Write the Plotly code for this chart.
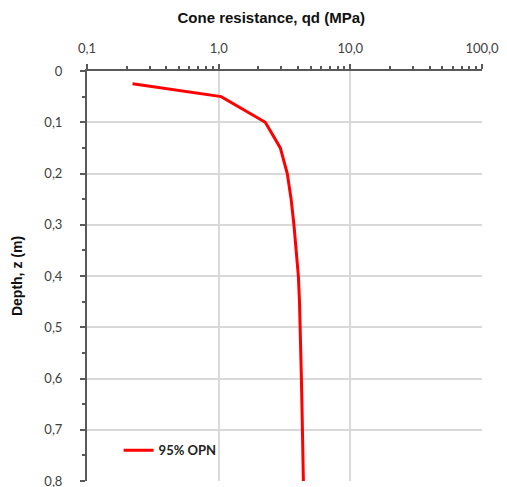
import plotly.graph_objects as go

# Data
depth_m = [0.025, 0.05, 0.10, 0.15, 0.20, 0.25, 0.30, 0.35, 0.40, 0.45, 0.50, 0.55, 0.60, 0.65, 0.70, 0.75, 0.80]
qd_mpa = [0.222, 1.045, 2.26, 2.94, 3.32, 3.55, 3.73, 3.90, 4.03, 4.11, 4.17, 4.21, 4.25, 4.29, 4.32, 4.36, 4.40]
series_name = "95% OPN"

x_tick_vals = [0.1, 1, 10, 100]
x_tick_text = ["0,1", "1,0", "10,0", "100,0"]
y_tick_vals = [0, 0.1, 0.2, 0.3, 0.4, 0.5, 0.6, 0.7, 0.8]
y_tick_text = ["0", "0,1", "0,2", "0,3", "0,4", "0,5", "0,6", "0,7", "0,8"]

x_minor = [m * 10 ** k for k in (-1, 0, 1) for m in range(2, 10)]
y_minor = [v + 0.05 for v in y_tick_vals[:-1]]

axis_color = "#595959"
grid_color = "#d9d9d9"
tick_font = dict(family="Lato, Open Sans, sans-serif", size=13, color="#404040")

fig = go.Figure()
fig.add_trace(go.Scatter(
    x=qd_mpa, y=depth_m, mode="lines", name=series_name,
    line=dict(color="#ff0000", width=3),
))

fig.update_layout(
    width=507, height=487,
    margin=dict(l=87, r=25, t=71, b=6, autoexpand=False),
    paper_bgcolor="white", plot_bgcolor="white",
    showlegend=True,
    legend=dict(x=0.08, y=0.075, xanchor="left", yanchor="middle",
                bgcolor="rgba(0,0,0,0)",
                font=dict(family="Lato, Open Sans, sans-serif", size=13, color="#222222", weight="bold")),
    title=dict(text="<b>Cone resistance, qd (MPa)</b>", x=0.535, xanchor="center",
               y=0.963, yanchor="middle",
               font=dict(family="Liberation Sans, Arial, sans-serif", size=15, color="#111111")),
)

fig.update_xaxes(
    type="log", range=[-1, 2], side="top", automargin=False,
    tickmode="array", tickvals=x_tick_vals, ticktext=x_tick_text,
    tickfont=tick_font, ticklabeloverflow="allow", ticklabelstandoff=6,
    showline=True, linecolor=axis_color, linewidth=2,
    ticks="outside", ticklen=5, tickcolor=axis_color, tickwidth=1.5,
    showgrid=True, gridcolor=grid_color, gridwidth=1.5,
    minor=dict(tickmode="array", tickvals=x_minor, ticks="outside", ticklen=3,
               tickcolor=axis_color, showgrid=False),
    zeroline=False, mirror=False,
)
fig.update_yaxes(
    range=[0.8, 0], automargin=False,
    tickmode="array", tickvals=y_tick_vals, ticktext=y_tick_text,
    tickfont=tick_font, ticklabeloverflow="allow", ticklabelstandoff=15,
    title=dict(text="<b>Depth, z (m)</b>", font=dict(family="Liberation Sans, Arial, sans-serif", size=14, color="#111111"),
               standoff=18),
    showline=True, linecolor=axis_color, linewidth=2,
    ticks="outside", ticklen=5, tickcolor=axis_color, tickwidth=1.5,
    showgrid=True, gridcolor=grid_color, gridwidth=1.5,
    minor=dict(tickmode="array", tickvals=y_minor, ticks="outside", ticklen=3,
               tickcolor=axis_color, showgrid=False),
    zeroline=False,
)

fig.write_html("out.html", config={"displayModeBar": False},
               post_script="document.body.style.margin='0';")
